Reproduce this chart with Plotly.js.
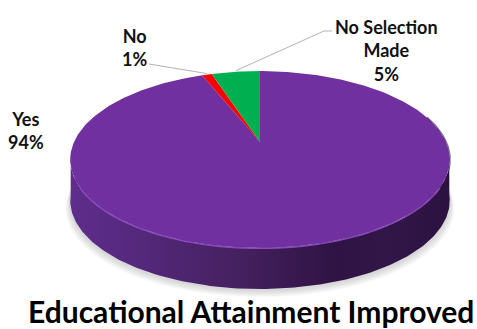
<!DOCTYPE html>
<html><head><meta charset="utf-8">
<script src="https://cdn.plot.ly/plotly-3.0.1.min.js"></script>
<style>html,body{margin:0;padding:0;background:#fff}#c{width:477px;height:329px}</style>
</head><body><div id="c"></div>
<script>
const categories = ["Yes", "No", "No Selection<br>Made"];
const values = [94, 1, 5];
const colors = ["#7030A0", "#FF0000", "#00B050"];
const chartTitle = "Educational Attainment Improved";

// Pie tilted in perspective: unit-circle point -> picture position
const apex = {x: 260, y: 142}, R = 186, A = 85, k = 0.198, depth = 41;
function proj(t) { // t = clockwise fraction of the turn from 12 o'clock
  const a = 2 * Math.PI * t, u = Math.sin(a), v = Math.cos(a), w = 1 + k * v;
  return [apex.x + R * u / w, apex.y - A * v / w];
}
function arc(t0, t1) {
  const n = Math.max(2, Math.ceil(Math.abs(t1 - t0) * 360)), p = [];
  for (let i = 0; i <= n; i++) p.push(proj(t0 + (t1 - t0) * i / n));
  return p;
}
const total = values.reduce((a, b) => a + b, 0);
const traces = [];
const base = {type: "scatter", mode: "lines", hoverinfo: "skip", showlegend: false};

// soft ground shadow
const ring = arc(0, 1);
for (let i = 6; i >= 1; i--) {
  const s = 1 + 0.004 * i;
  traces.push({...base, x: ring.map(p => apex.x + (p[0] - apex.x) * s),
    y: ring.map(p => p[1] + depth + 1 + i * 1.2), fill: "toself",
    fillcolor: "rgba(120,120,120,0.05)", line: {width: 0}});
}
// side wall
const tL = arc(0.271, 0.729);
const front = tL.concat(tL.slice().reverse().map(p => [p[0], p[1] + depth]));
traces.push({...base, x: front.map(p => p[0]), y: front.map(p => p[1]), fill: "toself",
  line: {width: 0},
  fillgradient: {type: "horizontal", start: 69, stop: 451, colorscale: [
    [0, "#5f2d8c"], [0.15, "#56297f"], [0.45, "#45205f"], [0.7, "#2f1344"], [0.82, "#321648"], [1, "#2b1240"]]}});

// top face: one slice per value, sweeping clockwise from 12 o'clock
let cum = 0;
values.forEach((val, i) => {
  const t0 = cum / total; cum += val; const t1 = cum / total;
  const pts = [[apex.x, apex.y]].concat(arc(t0, t1), [[apex.x, apex.y]]);
  traces.push({...base, x: pts.map(p => p[0]), y: pts.map(p => p[1]), fill: "toself",
    fillcolor: colors[i], line: {width: 0}, name: categories[i].replace("<br>", " ")});
});
// light bevel along the front rim
const rim = arc(0.33, 0.67);
traces.push({...base, x: rim.map(p => p[0]), y: rim.map(p => p[1] + 0.5),
  line: {color: "#8a4cbc", width: 1.2, shape: "spline"}});
const rimDark = arc(0.2, 0.3);
traces.push({...base, x: rimDark.map(p => p[0] + 0.5), y: rimDark.map(p => p[1]),
  line: {color: "rgba(50,25,75,0.6)", width: 1.2}});

// leader lines
const leaderNo = proj((values[0] + values[1] / 2) / total);
const leaderNS = proj((values[0] + values[1] + values[2] / 2) / total);
traces.push({...base, x: [149, leaderNo[0]], y: [64, leaderNo[1] - 1], line: {color: "#b3b3b3", width: 1}});
traces.push({...base, x: [332, 324, leaderNS[0]], y: [31, 31, leaderNS[1] - 1], line: {color: "#b3b3b3", width: 1}});

const fnt = {family: "Lato, Carlito, sans-serif", size: 18, color: "#111"};
const label = (i, x, y) => ({text: categories[i] + "<br>" + values[i] + "%", x, y, xref: "x", yref: "y",
  showarrow: false, font: fnt, align: "center", xanchor: "center", yanchor: "middle"});

Plotly.newPlot("c", traces, {
  width: 477, height: 329, margin: {l: 0, r: 0, t: 0, b: 0},
  paper_bgcolor: "#fff", plot_bgcolor: "#fff", showlegend: false,
  xaxis: {range: [0, 477], visible: false, fixedrange: true},
  yaxis: {range: [329, 0], visible: false, fixedrange: true},
  annotations: [
    label(0, 26, 130), label(1, 134, 47), label(2, 386, 50),
    {text: "<b>" + chartTitle + "</b>", x: 251, y: 311, xref: "x", yref: "y", showarrow: false,
     font: {family: "Lato, Carlito, sans-serif", size: 30, color: "#000"}, xanchor: "center", yanchor: "middle"}
  ].map(a => a.text.startsWith("<b>") ? a : {...a, text: "<b>" + a.text.split("<br>").join("</b><br><b>") + "</b>"})
}, {staticPlot: true, displayModeBar: false});
</script></body></html>
